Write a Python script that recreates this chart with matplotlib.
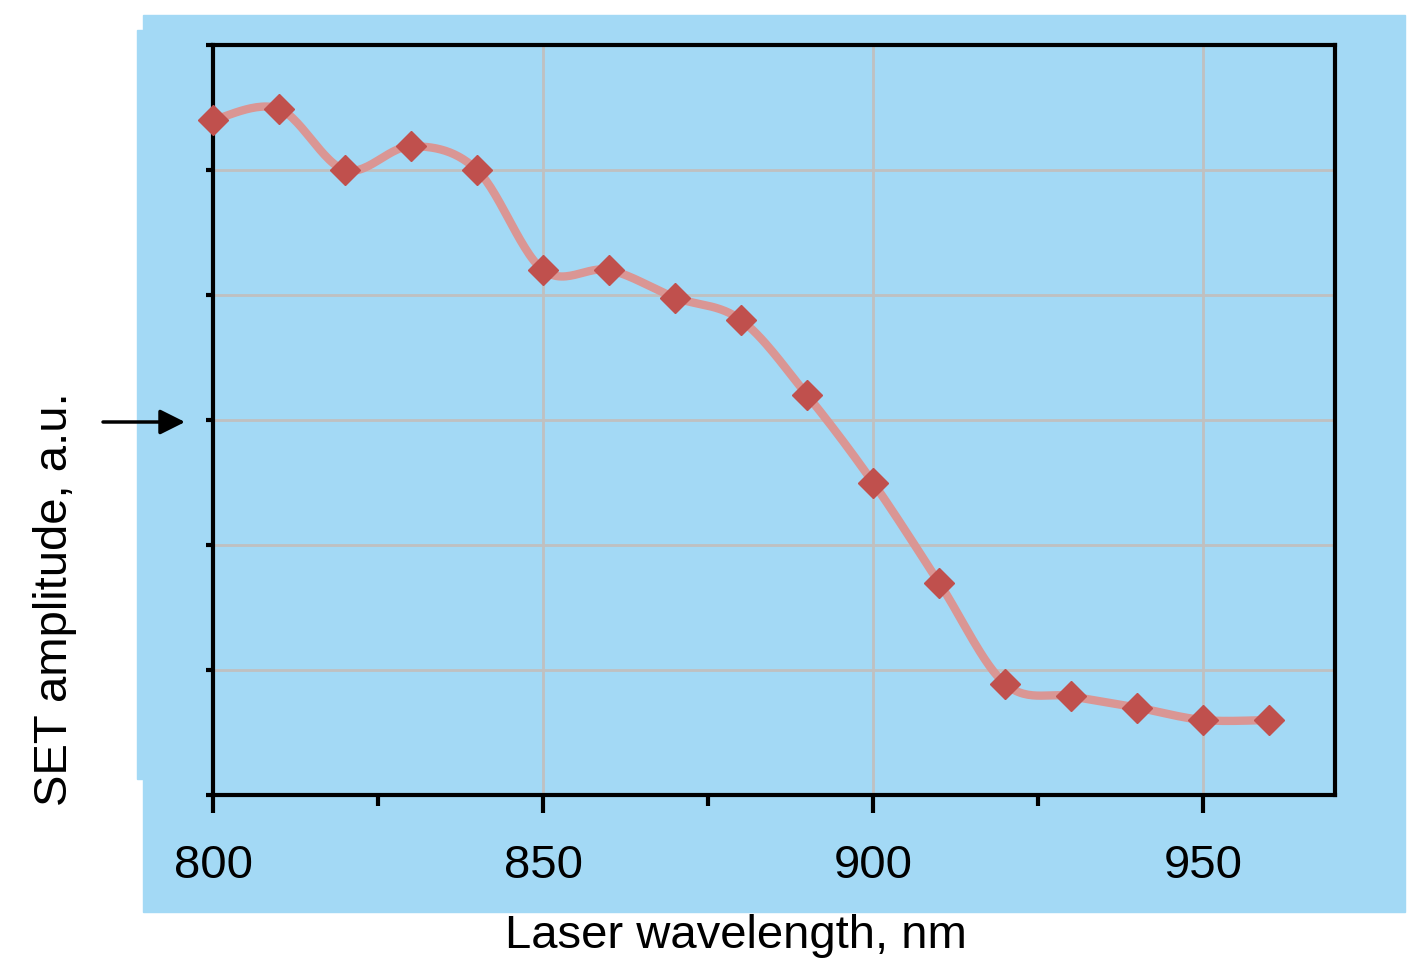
import matplotlib.pyplot as plt
from matplotlib.patches import Rectangle
import numpy as np

# wavelength (nm) and SET amplitude (a.u.)
wavelength = [800, 810, 820, 830, 840, 850, 860, 870, 880, 890, 900, 910, 920, 930, 940, 950, 960]
amplitude = [5.40, 5.49, 5.00, 5.19, 5.00, 4.20, 4.20, 3.98, 3.80, 3.20, 2.50, 1.70, 0.89, 0.79, 0.70, 0.60, 0.60]
xticks = [800, 850, 900, 950]

blue = '#A3D9F5'
line_col = '#DA9694'
mark_col = '#C0504D'


def smooth(x, y, n=30):
    # Catmull-Rom style bezier, like the spreadsheet "smoothed line"
    p = np.column_stack([x, y]).astype(float)
    p = np.vstack([p[0], p, p[-1]])
    out = []
    t = np.linspace(0, 1, n)[:, None]
    for i in range(1, len(p) - 2):
        p0, p3 = p[i], p[i + 1]
        p1 = p0 + (p[i + 1] - p[i - 1]) / 6
        p2 = p3 - (p[i + 2] - p[i]) / 6
        seg = (1 - t) ** 3 * p0 + 3 * (1 - t) ** 2 * t * p1 + 3 * (1 - t) * t ** 2 * p2 + t ** 3 * p3
        out.append(seg)
    out = np.vstack(out)
    return out[:, 0], out[:, 1]


fig = plt.figure(figsize=(14.23, 9.6), dpi=100)
W, H = 1423, 960

# blue background panel
fig.patches.append(Rectangle((143 / W, 1 - 912 / H), (1405 - 143) / W, (912 - 15) / H,
                             transform=fig.transFigure, color=blue, zorder=-10))
fig.patches.append(Rectangle((137 / W, 1 - 779 / H), 10 / W, (779 - 30) / H,
                             transform=fig.transFigure, color=blue, zorder=-10))

ax = fig.add_axes([213 / W, 1 - 795 / H, (1335 - 213) / W, (795 - 45) / H])
ax.set_facecolor('none')

sx, sy = smooth(wavelength, amplitude)
ax.plot(sx, sy, color=line_col, lw=6, solid_capstyle='round', zorder=3)
ax.plot(wavelength, amplitude, ls='none', marker='D', ms=15, color=mark_col,
        mec=mark_col, zorder=4, clip_on=False)

ax.set_xlim(800, 970)
ax.set_ylim(0, 6)
ax.set_xticks(xticks)
ax.set_xticks([825, 875, 925], minor=True)
ax.set_yticks(range(0, 7))
ax.set_yticklabels([])
ax.grid(True, which='major', color='#C0C0C0', lw=2)
ax.tick_params(axis='x', which='major', direction='out', length=13, width=3,
               labelsize=34, pad=22)
ax.tick_params(axis='x', which='minor', direction='out', length=8, width=3)
ax.tick_params(axis='y', direction='out', length=5, width=3)
for lab in ax.get_xticklabels():
    lab.set_fontfamily('Liberation Sans')
for s in ax.spines.values():
    s.set_linewidth(3)
ax.set_axisbelow(True)

fig.text(736 / W, 1 - 936 / H, 'Laser wavelength, nm', ha='center', va='center',
         fontsize=34, family='Liberation Sans')
fig.text(55 / W, 1 - 599 / H, 'SET amplitude, a.u.', ha='center', va='center',
         rotation=90, fontsize=34, family='Liberation Sans')

ax.annotate('', xy=(185 / W, 1 - 422 / H), xytext=(103 / W, 1 - 422 / H),
            xycoords='figure fraction', textcoords='figure fraction',
            arrowprops=dict(arrowstyle='-|>', color='black', lw=2.5, mutation_scale=38,
                            shrinkA=0, shrinkB=0))

fig.savefig('out.png', dpi=100)
